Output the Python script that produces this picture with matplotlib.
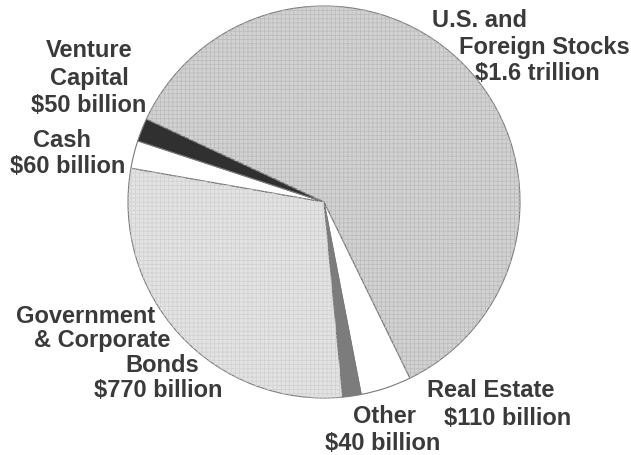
import matplotlib.pyplot as plt

plt.rcParams['font.family'] = ['Liberation Sans', 'DejaVu Sans']
plt.rcParams['hatch.linewidth'] = 0.6

# slices, clockwise from the top left
names = ['U.S. and Foreign Stocks', 'Real Estate', 'Other',
         'Government & Corporate Bonds', 'Cash', 'Venture Capital']
values = [1600, 110, 40, 770, 60, 50]  # $ billion
fills = ['#d2d2d2', '#ffffff', '#7c7c7c', '#e3e3e3', '#ffffff', '#303030']
hatch_cols = ['#bdbdbd', 'none', 'none', '#d2d2d2', 'none', 'none']

# label lines as drawn in the picture
label_lines = [
    ['U.S. and', 'Foreign Stocks', '$1.6 trillion'],
    ['Real Estate', '$110 billion'],
    ['Other', '$40 billion'],
    ['Government', '& Corporate', 'Bonds', '$770 billion'],
    ['Cash', '$60 billion'],
    ['Venture', 'Capital', '$50 billion'],
]
# centre x / baseline y of each line, in pixels from the top left
label_pos = [
    [(479, 27), (544, 54), (537, 80)],
    [(491, 397), (508, 425)],
    [(384, 423), (383, 450)],
    [(86, 323), (102, 347), (162, 372), (158, 397)],
    [(62, 147), (68, 173)],
    [(89, 57), (89, 85), (89, 112)],
]

W, H = 631, 455
fig = plt.figure(figsize=(W / 100, H / 100), dpi=100)
ax = fig.add_axes([0, 0, 1, 1])

centre = (324, H - 202)
radius = 196
start = 155

wedges, _ = ax.pie(values, colors=fills, startangle=start, counterclock=False,
                   center=centre, radius=radius, frame=True,
                   wedgeprops=dict(edgecolor='#7a7a7a', linewidth=0.8))
# fine grid texture on the two big slices
hatched, _ = ax.pie(values, colors=['none'] * len(values), startangle=start,
                    counterclock=False, center=centre, radius=radius, frame=True,
                    wedgeprops=dict(linewidth=0))
for w, hc in zip(hatched, hatch_cols):
    if hc == 'none':
        w.set_visible(False)
    else:
        w.set_edgecolor(hc)
        w.set_hatch('++++')
ax.set_xlim(0, W)
ax.set_ylim(0, H)
ax.axis('off')

for lines, pos in zip(label_lines, label_pos):
    for txt, (x, y) in zip(lines, pos):
        ax.text(x, H - y, txt, ha='center', va='baseline', fontsize=17,
                fontweight='bold', color='#3a3a3a')

fig.savefig('out.png', dpi=100)
